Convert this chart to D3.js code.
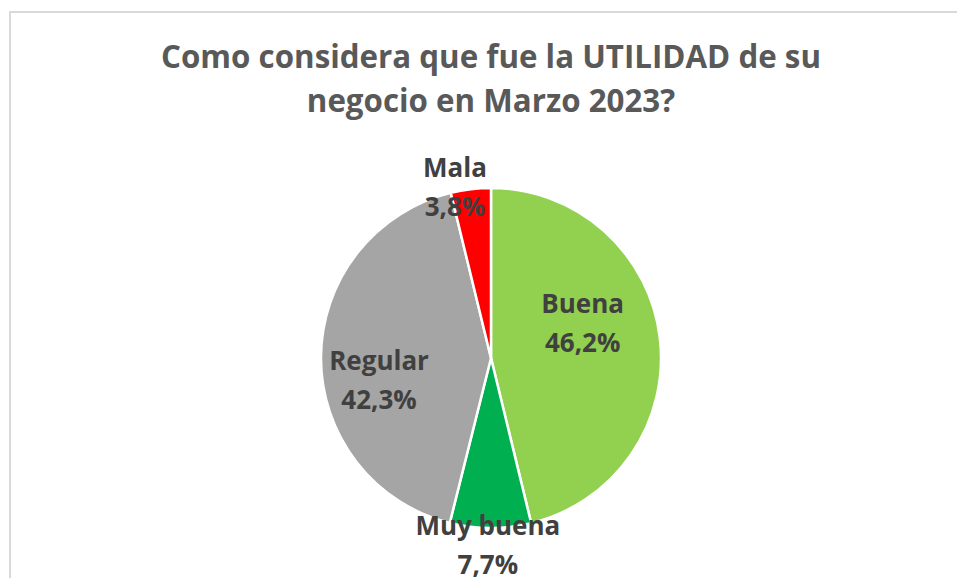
<!DOCTYPE html>
<html lang="en">
<head>
<meta charset="utf-8">
<title>Utilidad Marzo 2023</title>
<script src="https://cdn.jsdelivr.net/npm/d3@7/dist/d3.min.js"></script>
<style>
  body { margin: 0; background: #fff; font-family: 'Open Sans', sans-serif; }
</style>
</head>
<body>
<div id="chart"></div>
<script>
// data
var categories = ["Buena", "Muy buena", "Regular", "Mala"];
var values = [46.2, 7.7, 42.3, 3.8];
var colors = ["#92D050", "#00B050", "#A5A5A5", "#FF0000"];
var titleLines = ["Como considera que fue la UTILIDAD de su", "negocio en Marzo 2023?"];

// where each label sits: angle (deg, clockwise from top) and distance as a share of radius
var labelAngle = [66, 181, 262, 348.5];
var labelDist = [0.59, 1.065, 0.665, 1.062];

var width = 957, height = 578;
var cx = 491, cy = 358, r = 170;

var svg = d3.select("#chart").append("svg")
    .attr("width", width)
    .attr("height", height);

// chart border (runs off the right and bottom edges)
svg.append("rect")
    .attr("x", 10).attr("y", 12)
    .attr("width", 980).attr("height", 600)
    .attr("fill", "#fff")
    .attr("stroke", "#d9d9d9")
    .attr("stroke-width", 2);

var title = svg.append("text")
    .attr("text-anchor", "middle")
    .attr("fill", "#595959")
    .style("font-weight", 700)
    .style("font-size", "31.3px");
title.selectAll("tspan").data(titleLines).enter().append("tspan")
    .attr("x", 491)
    .attr("y", function(d, i) { return 68 + i * 44; })
    .text(function(d) { return d; });

var data = categories.map(function(c, i) { return {name: c, value: values[i], color: colors[i], i: i}; });

var pie = d3.pie().sort(null).value(function(d) { return d.value; });
var arc = d3.arc().innerRadius(0).outerRadius(r);

var g = svg.append("g").attr("transform", "translate(" + cx + "," + cy + ")");

g.selectAll("path").data(pie(data)).enter().append("path")
    .attr("d", arc)
    .attr("fill", function(d) { return d.data.color; })
    .attr("stroke", "#fff")
    .attr("stroke-width", 2.5)
    .attr("stroke-linejoin", "round");

var fmt = function(v) { return d3.format(".1f")(v).replace(".", ",") + "%"; };

var labels = g.selectAll("text.lbl").data(pie(data)).enter().append("text")
    .attr("class", "lbl")
    .attr("text-anchor", "middle")
    .attr("fill", "#404040")
    .style("font-weight", 700)
    .style("font-size", "26px")
    .attr("transform", function(d) {
        var a = labelAngle[d.data.i] * Math.PI / 180, rr = labelDist[d.data.i] * r;
        return "translate(" + (rr * Math.sin(a)) + "," + (-rr * Math.cos(a)) + ")";
    });
labels.append("tspan").attr("x", 0).attr("dy", "-0.15em").text(function(d) { return d.data.name; });
labels.append("tspan").attr("x", 0).attr("dy", "1.5em").text(function(d) { return fmt(d.data.value); });
</script>
</body>
</html>
